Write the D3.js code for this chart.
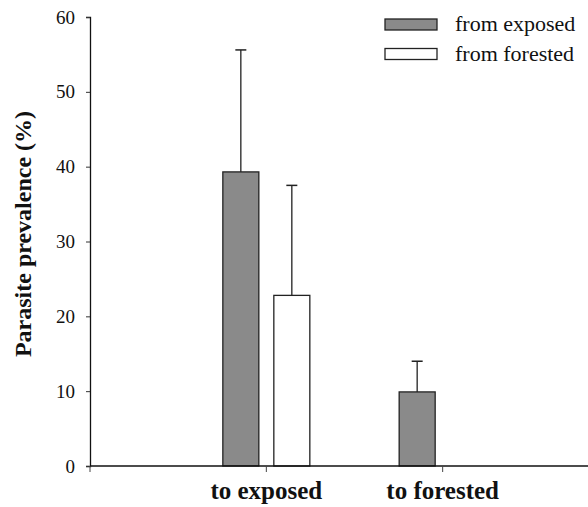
<!DOCTYPE html>
<html>
<head>
<meta charset="utf-8">
<script src="https://cdn.jsdelivr.net/npm/d3@7/dist/d3.min.js"></script>
<style>
  html, body { margin: 0; padding: 0; background: #fff; }
  svg { display: block; }
  text { font-family: "Liberation Serif", "Times New Roman", serif; fill: #111; }
</style>
</head>
<body>
<svg id="chart" width="588" height="507"></svg>
<script>
// Destination habitats (x categories)
const categories = ["to exposed", "to forested"];
// Origin habitats (series)
const series = ["from exposed", "from forested"];
// Mean prevalence (%) per series, in category order
const fromExposed = [39.3, 9.9];
const fromForested = [22.8, 0];
// Upper error bar ends (%)
const fromExposedUpper = [55.6, 14.0];
const fromForestedUpper = [37.5, null];
// Y ticks
const yTicks = [0, 10, 20, 30, 40, 50, 60];

const seriesValues = [fromExposed, fromForested];
const seriesUpper = [fromExposedUpper, fromForestedUpper];
const fills = ["#8a8a8a", "#ffffff"];

const svg = d3.select("#chart");
const x0 = 90, x1 = 619, yTop = 17, yBase = 466;

const y = d3.scaleLinear().domain([0, 60]).range([yBase, yTop]);
const x = d3.scalePoint().domain(categories).range([x0, x1]).padding(1);
const xs = d3.scaleBand().domain(series).range([-43.5, 43.5]).paddingInner(0.294);

// Y axis
const yAxis = svg.append("g")
  .attr("transform", `translate(${x0},0)`)
  .call(d3.axisLeft(y).tickValues(yTicks).tickSize(4).tickPadding(11));
yAxis.select(".domain").attr("stroke", "#111").attr("stroke-width", 1.3);
yAxis.selectAll(".tick line").attr("stroke", "#333");
yAxis.selectAll(".tick text")
  .style("font-family", "Liberation Serif, serif")
  .style("font-size", "19px")
  .attr("fill", "#222");

// Bars
const data = [];
categories.forEach((c, i) => series.forEach((s, j) => {
  data.push({ c, s, j, v: seriesValues[j][i], up: seriesUpper[j][i] });
}));

// Error bars (upward only)
const err = svg.append("g");
data.filter(d => d.up != null).forEach(d => {
  const cx = x(d.c) + xs(d.s) + xs.bandwidth() / 2;
  err.append("line")
    .attr("x1", cx).attr("x2", cx)
    .attr("y1", y(d.v)).attr("y2", y(d.up))
    .attr("stroke", "#222").attr("stroke-width", 1.3);
  err.append("line")
    .attr("x1", cx - 5.5).attr("x2", cx + 5.5)
    .attr("y1", y(d.up)).attr("y2", y(d.up))
    .attr("stroke", "#222").attr("stroke-width", 1.5);
});

svg.append("g").selectAll("rect")
  .data(data.filter(d => d.v > 0))
  .join("rect")
  .attr("x", d => x(d.c) + xs(d.s))
  .attr("width", xs.bandwidth())
  .attr("y", d => y(d.v))
  .attr("height", d => y(0) - y(d.v))
  .attr("fill", d => fills[d.j])
  .attr("stroke", "#222")
  .attr("stroke-width", 1.3);

// X axis
const xAxis = svg.append("g");
xAxis.append("line")
  .attr("x1", x0).attr("x2", 588)
  .attr("y1", yBase).attr("y2", yBase)
  .attr("stroke", "#111").attr("stroke-width", 1.6);
const xTickPos = [x0].concat(categories.map(c => x(c)));
xAxis.selectAll("line.tick")
  .data(xTickPos)
  .join("line")
  .attr("class", "tick")
  .attr("x1", d => d).attr("x2", d => d)
  .attr("y1", yBase).attr("y2", yBase + 6)
  .attr("stroke", "#444").attr("stroke-width", 1);
xAxis.selectAll("text")
  .data(categories)
  .join("text")
  .attr("x", d => x(d))
  .attr("y", 499)
  .attr("text-anchor", "middle")
  .style("font-size", "25px")
  .style("font-weight", "bold")
  .text(d => d);

// Y axis title
svg.append("text")
  .attr("transform", `translate(31,234) rotate(-90)`)
  .attr("text-anchor", "middle")
  .style("font-size", "24px")
  .style("font-weight", "bold")
  .text("Parasite prevalence (%)");

// Legend
const legend = svg.append("g");
series.forEach((s, j) => {
  const ly = 19 + j * 29.5;
  legend.append("rect")
    .attr("x", 385).attr("y", ly)
    .attr("width", 52).attr("height", 11)
    .attr("fill", fills[j])
    .attr("stroke", "#222").attr("stroke-width", 1.3);
  legend.append("text")
    .attr("x", 455).attr("y", ly + 12)
    .style("font-size", "22px")
    .text(s);
});
</script>
</body>
</html>
